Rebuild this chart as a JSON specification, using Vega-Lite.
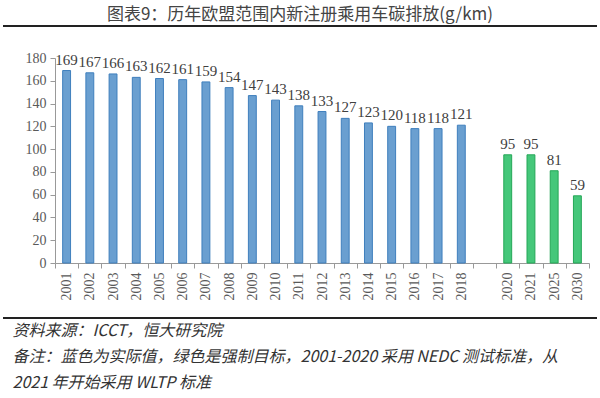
{
  "$schema": "https://vega.github.io/schema/vega-lite/v6.json",
  "autosize": {"type": "none"},
  "width": 534,
  "height": 205,
  "padding": {"left": 55, "top": 58, "right": 11, "bottom": 135},
  "background": "white",
  "config": {"view": {"stroke": null}},
  "title": {
    "text": "图表9：历年欧盟范围内新注册乘用车碳排放(g/km)",
    "font": "Noto Sans CJK SC",
    "fontSize": 17,
    "fontWeight": "normal",
    "color": "#444444",
    "anchor": "middle",
    "frame": "group",
    "dx": -22,
    "offset": -12,
    "baseline": "alphabetic"
  },
  "data": {
    "values": [
      {"year": "2001", "value": 169, "type": "实际值"},
      {"year": "2002", "value": 167, "type": "实际值"},
      {"year": "2003", "value": 166, "type": "实际值"},
      {"year": "2004", "value": 163, "type": "实际值"},
      {"year": "2005", "value": 162, "type": "实际值"},
      {"year": "2006", "value": 161, "type": "实际值"},
      {"year": "2007", "value": 159, "type": "实际值"},
      {"year": "2008", "value": 154, "type": "实际值"},
      {"year": "2009", "value": 147, "type": "实际值"},
      {"year": "2010", "value": 143, "type": "实际值"},
      {"year": "2011", "value": 138, "type": "实际值"},
      {"year": "2012", "value": 133, "type": "实际值"},
      {"year": "2013", "value": 127, "type": "实际值"},
      {"year": "2014", "value": 123, "type": "实际值"},
      {"year": "2015", "value": 120, "type": "实际值"},
      {"year": "2016", "value": 118, "type": "实际值"},
      {"year": "2017", "value": 118, "type": "实际值"},
      {"year": "2018", "value": 121, "type": "实际值"},
      {"year": "2020", "value": 95, "type": "强制目标"},
      {"year": "2021", "value": 95, "type": "强制目标"},
      {"year": "2025", "value": 81, "type": "强制目标"},
      {"year": "2030", "value": 59, "type": "强制目标"}
    ]
  },
  "encoding": {
    "x": {
      "field": "year",
      "type": "nominal",
      "scale": {
        "domain": ["2001","2002","2003","2004","2005","2006","2007","2008","2009","2010","2011","2012","2013","2014","2015","2016","2017","2018"," ","2020","2021","2025","2030"],
        "paddingInner": 0,
        "paddingOuter": 0
      },
      "axis": {
        "labelAngle": -90,
        "labelFont": "Liberation Serif",
        "labelFontSize": 14,
        "labelColor": "#595959",
        "labelPadding": 4,
        "labelOverlap": false,
        "tickBand": "extent",
        "tickSize": 5,
        "tickColor": "#999999",
        "domainColor": "#999999",
        "title": ["资料来源：ICCT，恒大研究院", "备注：蓝色为实际值，绿色是强制目标，2001-2020 采用 NEDC 测试标准，从", "2021 年开始采用 WLTP 标准"],
        "titleFont": "Noto Sans CJK SC",
        "titleFontSize": 16,
        "titleFontWeight": "normal",
        "titleFontStyle": "italic",
        "titleColor": "#333333",
        "titleAnchor": "start",
        "titleAlign": "left",
        "titleBaseline": "top",
        "titleLineHeight": 26,
        "titleX": -43,
        "titleY": 59
      }
    },
    "y": {
      "field": "value",
      "type": "quantitative",
      "scale": {"domain": [0, 180]},
      "axis": {
        "values": [0, 20, 40, 60, 80, 100, 120, 140, 160, 180],
        "labelOverlap": false,
        "labelFlush": false,
        "grid": false,
        "title": null,
        "labelFont": "Liberation Serif",
        "labelFontSize": 14,
        "labelColor": "#595959",
        "labelPadding": 4,
        "tickSize": 5,
        "tickColor": "#999999",
        "domainColor": "#999999"
      }
    }
  },
  "layer": [
    {
      "mark": {"type": "bar", "width": {"band": 0.34}, "strokeWidth": 1},
      "encoding": {
        "fill": {
          "field": "type",
          "type": "nominal",
          "scale": {"domain": ["实际值", "强制目标"], "range": ["#6a9fd0", "#45c77a"]},
          "legend": null
        },
        "stroke": {
          "field": "type",
          "type": "nominal",
          "scale": {"domain": ["实际值", "强制目标"], "range": ["#3f7fbd", "#25a757"]},
          "legend": null
        }
      }
    },
    {
      "mark": {"type": "text", "baseline": "alphabetic", "dy": -6, "font": "Liberation Serif", "fontSize": 15, "color": "#404040"},
      "encoding": {
        "text": {"field": "value", "type": "quantitative"}
      }
    },
    {
      "data": {"values": [{"line": "top"}]},
      "mark": {"type": "rule", "color": "#222222", "strokeWidth": 2},
      "encoding": {
        "x": {"value": -52},
        "x2": {"value": 542},
        "y": {"value": -32}
      }
    },
    {
      "data": {"values": [{"line": "bottom"}]},
      "mark": {"type": "rule", "color": "#222222", "strokeWidth": 2},
      "encoding": {
        "x": {"value": -52},
        "x2": {"value": 542},
        "y": {"value": 260}
      }
    }
  ]
}
